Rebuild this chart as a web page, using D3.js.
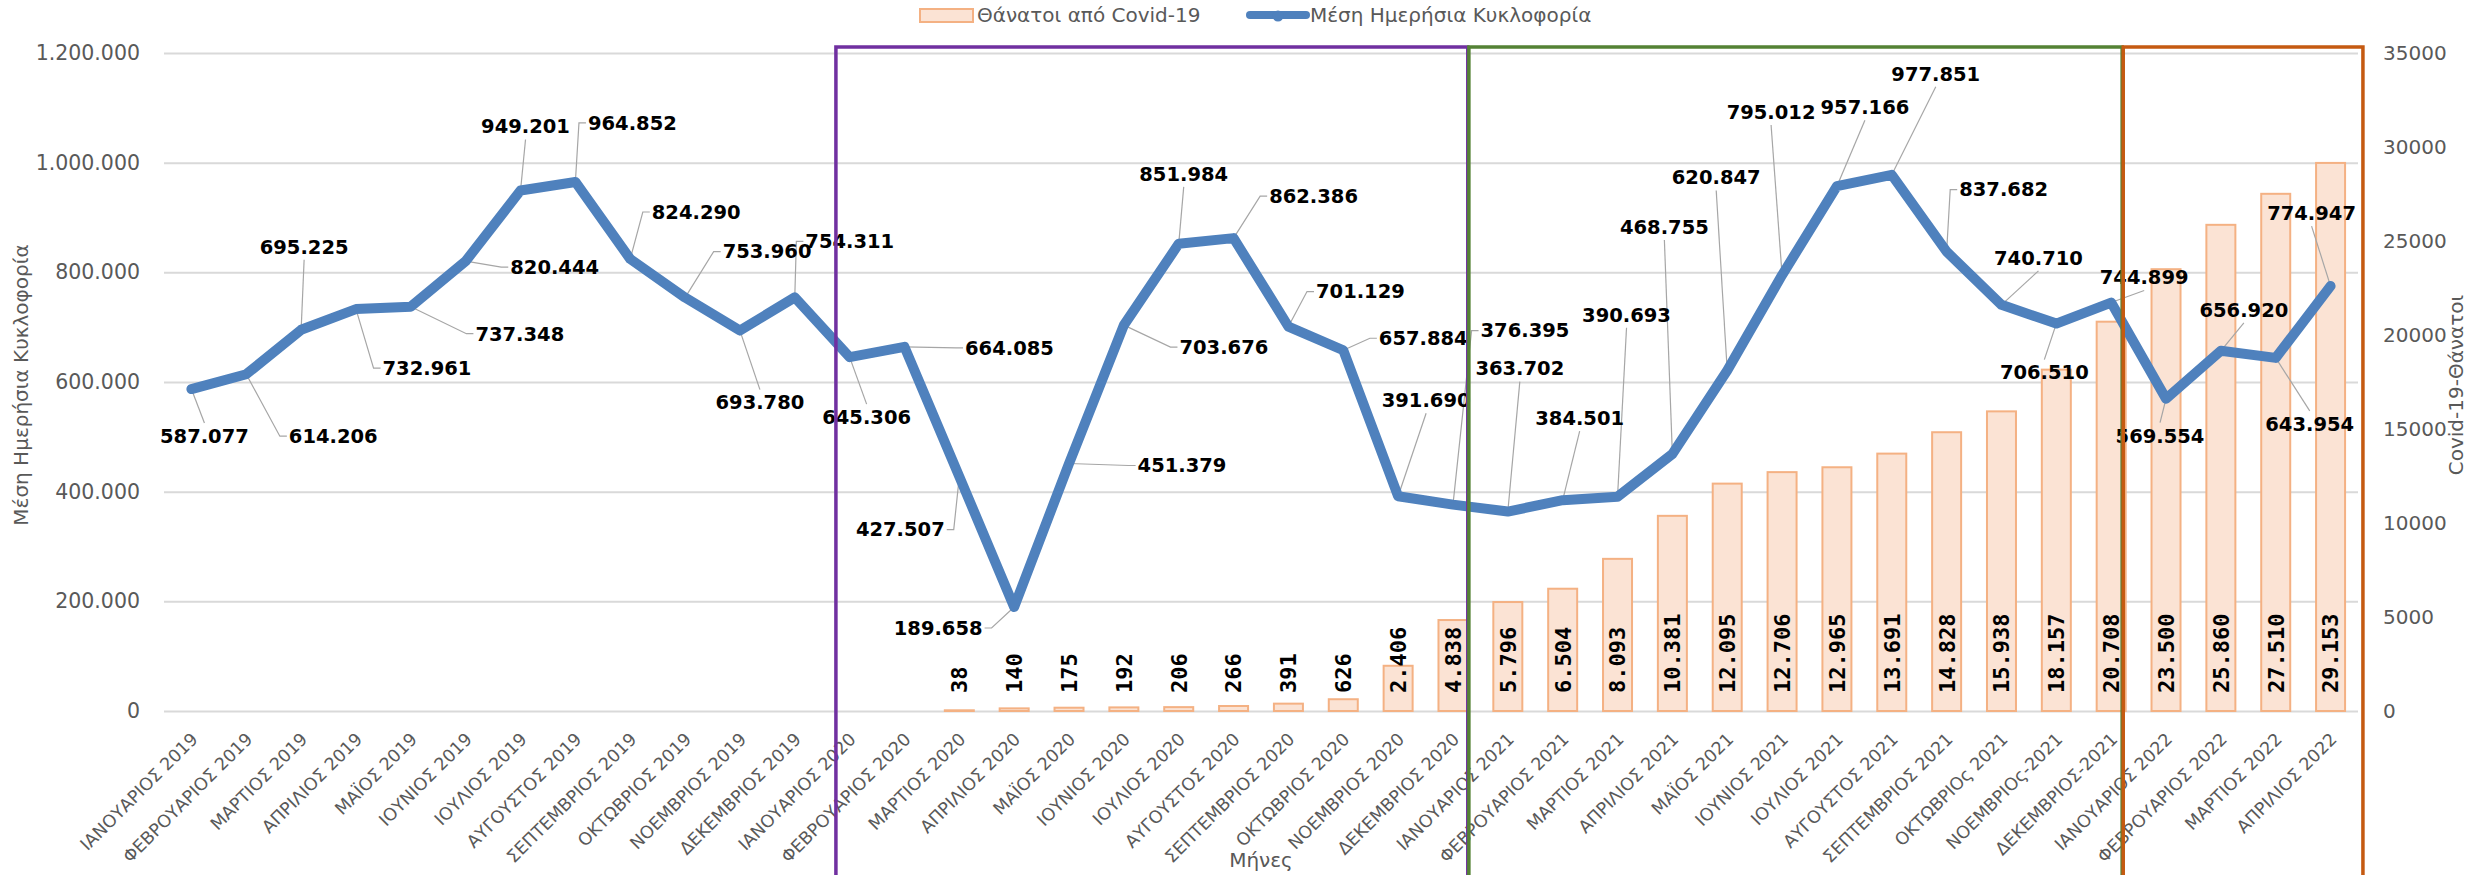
<!DOCTYPE html>
<html><head><meta charset="utf-8">
<script src="https://cdn.jsdelivr.net/npm/d3@7"></script>
<style>
body{margin:0;background:#fff}
svg{display:block;font-family:"DejaVu Sans",sans-serif}
</style>
</head><body>
<svg id="chart" width="2486" height="875"></svg>
<script>
// ---------- DATA ----------
const months = ["ΙΑΝΟΥΑΡΙΟΣ 2019","ΦΕΒΡΟΥΑΡΙΟΣ 2019","ΜΑΡΤΙΟΣ 2019","ΑΠΡΙΛΙΟΣ 2019","ΜΑΪΟΣ 2019","ΙΟΥΝΙΟΣ 2019","ΙΟΥΛΙΟΣ 2019","ΑΥΓΟΥΣΤΟΣ 2019","ΣΕΠΤΕΜΒΡΙΟΣ 2019","ΟΚΤΩΒΡΙΟΣ 2019","ΝΟΕΜΒΡΙΟΣ 2019","ΔΕΚΕΜΒΡΙΟΣ 2019",
"ΙΑΝΟΥΑΡΙΟΣ 2020","ΦΕΒΡΟΥΑΡΙΟΣ 2020","ΜΑΡΤΙΟΣ 2020","ΑΠΡΙΛΙΟΣ 2020","ΜΑΪΟΣ 2020","ΙΟΥΝΙΟΣ 2020","ΙΟΥΛΙΟΣ 2020","ΑΥΓΟΥΣΤΟΣ 2020","ΣΕΠΤΕΜΒΡΙΟΣ 2020","ΟΚΤΩΒΡΙΟΣ 2020","ΝΟΕΜΒΡΙΟΣ 2020","ΔΕΚΕΜΒΡΙΟΣ 2020",
"ΙΑΝΟΥΑΡΙΟΣ 2021","ΦΕΒΡΟΥΑΡΙΟΣ 2021","ΜΑΡΤΙΟΣ 2021","ΑΠΡΙΛΙΟΣ 2021","ΜΑΪΟΣ 2021","ΙΟΥΝΙΟΣ 2021","ΙΟΥΛΙΟΣ 2021","ΑΥΓΟΥΣΤΟΣ 2021","ΣΕΠΤΕΜΒΡΙΟΣ 2021","ΟΚΤΩΒΡΙΟς 2021","ΝΟΕΜΒΡΙΟς-2021","ΔΕΚΕΜΒΡΙΟΣ-2021",
"ΙΑΝΟΥΑΡΙΟΣ 2022","ΦΕΒΡΟΥΑΡΙΟΣ 2022","ΜΑΡΤΙΟΣ 2022","ΑΠΡΙΛΙΟΣ 2022"];

const traffic = [587077,614206,695225,732961,737348,820444,949201,964852,824290,753960,693780,754311,
645306,664085,427507,189658,451379,703676,851984,862386,701129,657884,391690,376395,
363702,384501,390693,468755,620847,795012,957166,977851,837682,740710,706510,744899,
569554,656920,643954,774947];

const deaths = [null,null,null,null,null,null,null,null,null,null,null,null,
null,null,38,140,175,192,206,266,391,626,2406,4838,
5796,6504,8093,10381,12095,12706,12965,13691,14828,15938,18157,20708,
23500,25860,27510,29153];

const leftTicks = [0,200000,400000,600000,800000,1000000,1200000];
const rightTicks = [0,5000,10000,15000,20000,25000,30000,35000];

const seriesNames = ["Θάνατοι από Covid-19","Μέση Ημερήσια Κυκλοφορία"];
const leftTitle = "Μέση Ημερήσια Κυκλοφορία";
const rightTitle = "Covid-19-Θάνατοι";
const xTitle = "Μήνες";

// ---------- LAYOUT (positions / styles only) ----------
const plot = {left:164, right:2358, top:53, bottom:711};
// label offsets (px) relative to each line point
const labelOffsets = [[13,47],[87,62],[3,-83],[71,59],[109,27],[89,6],[5,-64],[57,-59],[66,-47],[82,-46],[20,72],[55,-56],
[17,60],[105,1],[-59,53],[-76,21],[113,2],[100,22],[5,-70],[80,-42],[72,-35],[80,-12],[28,-96],[72,-174],
[12,-143],[17,-82],[9,-182],[-8,-227],[-11,-193],[-11,-163],[28,-79],[44,-101],[57,-62],[37,-47],[-12,49],[33,-25],
[-6,37],[23,-41],[34,66],[-19,-73]];
// frames in category units along x
const frames = [
  {from:12.25, to:23.77, color:"#7030a0"},
  {from:23.79, to:35.70, color:"#548235"},
  {from:35.72, to:40.09, color:"#c55a11"}
];

const grey = "#595959";
const lineColor = "#4f81bd";
const barFill = "#fbe3d4", barStroke = "#f4b183";

const gr = d3.formatLocale({decimal:",", thousands:".", grouping:[3], currency:["€",""]});
const fmt = gr.format(",d");

const svg = d3.select("#chart");

const x = d3.scaleBand().domain(months).range([plot.left, plot.right]).paddingInner(0).paddingOuter(0);
const bw = x.bandwidth();
const cx = m => x(m) + bw/2;
const yL = d3.scaleLinear().domain([0,1200000]).range([plot.bottom, plot.top]);
const yR = d3.scaleLinear().domain([0,35000]).range([plot.bottom, plot.top]);
const unitX = u => plot.left + u*bw;

// gridlines
const grid = svg.append("g").attr("transform",`translate(${plot.left},0)`)
  .call(d3.axisLeft(yL).tickValues(leftTicks).tickSize(-(plot.right-plot.left)).tickFormat(""));
grid.select(".domain").remove();
grid.selectAll("line").attr("stroke","#d9d9d9").attr("stroke-width",2);

// left axis
const la = svg.append("g").attr("transform",`translate(${plot.left},0)`)
  .call(d3.axisLeft(yL).tickValues(leftTicks).tickSize(0).tickPadding(24).tickFormat(fmt));
la.select(".domain").remove();
la.selectAll("text").attr("font-size",20.5).attr("fill",grey).attr("font-family","DejaVu Sans");

// right axis
const ra = svg.append("g").attr("transform",`translate(${plot.right},0)`)
  .call(d3.axisRight(yR).tickValues(rightTicks).tickSize(0).tickPadding(25).tickFormat(d3.format("d")));
ra.select(".domain").remove();
ra.selectAll("text").attr("font-size",20).attr("fill",grey).attr("font-family","DejaVu Sans");

// x axis
const xa = svg.append("g").attr("transform",`translate(0,${plot.bottom})`)
  .call(d3.axisBottom(x).tickSize(0));
xa.select(".domain").remove();
xa.selectAll("text")
  .attr("font-size",17.5).attr("fill",grey).attr("font-family","DejaVu Sans")
  .attr("text-anchor","end").attr("x",0).attr("y",0).attr("dy","0.35em")
  .attr("transform","translate(3,25) rotate(-45)");

// axis titles
svg.append("text").attr("transform",`translate(28,385) rotate(-90)`)
  .attr("text-anchor","middle").attr("font-size",20).attr("fill",grey).text(leftTitle);
svg.append("text").attr("transform",`translate(2463,385) rotate(-90)`)
  .attr("text-anchor","middle").attr("font-size",20).attr("fill",grey).text(rightTitle);
svg.append("text").attr("x",(plot.left+plot.right)/2).attr("y",860).attr("dy","0.35em")
  .attr("text-anchor","middle").attr("font-size",20).attr("fill",grey).text(xTitle);

// bars
const barData = months.map((m,i)=>({m, v:deaths[i]})).filter(d=>d.v!=null);
const barW = 29;
svg.append("g").selectAll("rect").data(barData).join("rect")
  .attr("x",d=>cx(d.m)-barW/2).attr("width",barW)
  .attr("y",d=>yR(d.v)).attr("height",d=>yR(0)-yR(d.v))
  .attr("fill",barFill).attr("stroke",barStroke).attr("stroke-width",2);

// bar labels
svg.append("g").selectAll("text").data(barData).join("text")
  .attr("transform",d=>`translate(${cx(d.m)},${plot.bottom-18}) rotate(-90)`)
  .attr("text-anchor","start").attr("dy","0.36em")
  .attr("font-family","DejaVu Sans Mono").attr("font-weight","bold").attr("font-size",22)
  .attr("fill","#000").text(d=>fmt(d.v));

// line data
const pts = months.map((m,i)=>({m, v:traffic[i], px:cx(m), py:yL(traffic[i]),
  lx:cx(m)+labelOffsets[i][0], ly:yL(traffic[i])+labelOffsets[i][1]}));

// labels (create first to measure)
const lblG = svg.append("g");
const leaderG = svg.insert("g", null);
const labels = lblG.selectAll("text").data(pts).join("text")
  .attr("x",d=>d.lx).attr("y",d=>d.ly).attr("dy","0.35em").attr("text-anchor","middle")
  .attr("font-weight","bold").attr("font-size",19.5).attr("fill","#000")
  .text(d=>fmt(d.v));

labels.each(function(d){
  const hw = this.getComputedTextLength()/2 + 2, hh = 9;
  const dx = d.px - d.lx, dy = d.py - d.ly;
  const ddx = Math.max(Math.abs(dx)-hw,0), ddy = Math.max(Math.abs(dy)-hh,0);
  if (Math.hypot(ddx,ddy) < 16) return;
  let path;
  if (Math.abs(dx) <= hw) {
    const ay = d.ly + Math.sign(dy)*(hh+4);
    path = `M${d.lx},${ay}L${d.px},${d.py}`;
  } else {
    const s = Math.sign(dx);
    const ax = d.lx + s*hw;
    path = `M${ax},${d.ly}L${ax+s*7},${d.ly}L${d.px},${d.py}`;
  }
  leaderG.append("path").attr("d",path).attr("fill","none").attr("stroke","#a6a6a6").attr("stroke-width",1.2);
});

// line (above leaders, below labels)
const lineG = svg.insert("g", () => lblG.node());
lineG.append("path").datum(pts)
  .attr("d", d3.line().x(d=>d.px).y(d=>d.py))
  .attr("fill","none").attr("stroke",lineColor).attr("stroke-width",10)
  .attr("stroke-linejoin","round").attr("stroke-linecap","round");

lineG.node().parentNode.insertBefore(leaderG.node(), lineG.node());

// legend
const lg = svg.append("g");
lg.append("rect").attr("x",920).attr("y",9).attr("width",53).attr("height",13)
  .attr("fill",barFill).attr("stroke",barStroke).attr("stroke-width",2);
lg.append("text").attr("x",977).attr("y",15).attr("dy","0.35em").attr("font-size",20).attr("fill",grey).text(seriesNames[0]);
lg.append("line").attr("x1",1250).attr("x2",1306).attr("y1",15).attr("y2",15)
  .attr("stroke",lineColor).attr("stroke-width",8).attr("stroke-linecap","round");
lg.append("circle").attr("cx",1278).attr("cy",16).attr("r",5.5).attr("fill",lineColor);
lg.append("text").attr("x",1310).attr("y",15).attr("dy","0.35em").attr("font-size",20).attr("fill",grey).text(seriesNames[1]);

// frames
svg.append("g").selectAll("path").data(frames).join("path")
  .attr("d",f=>`M${unitX(f.from)},880V47H${unitX(f.to)}V880`)
  .attr("fill","none").attr("stroke",f=>f.color).attr("stroke-width",3.5);
</script>
</body></html>
